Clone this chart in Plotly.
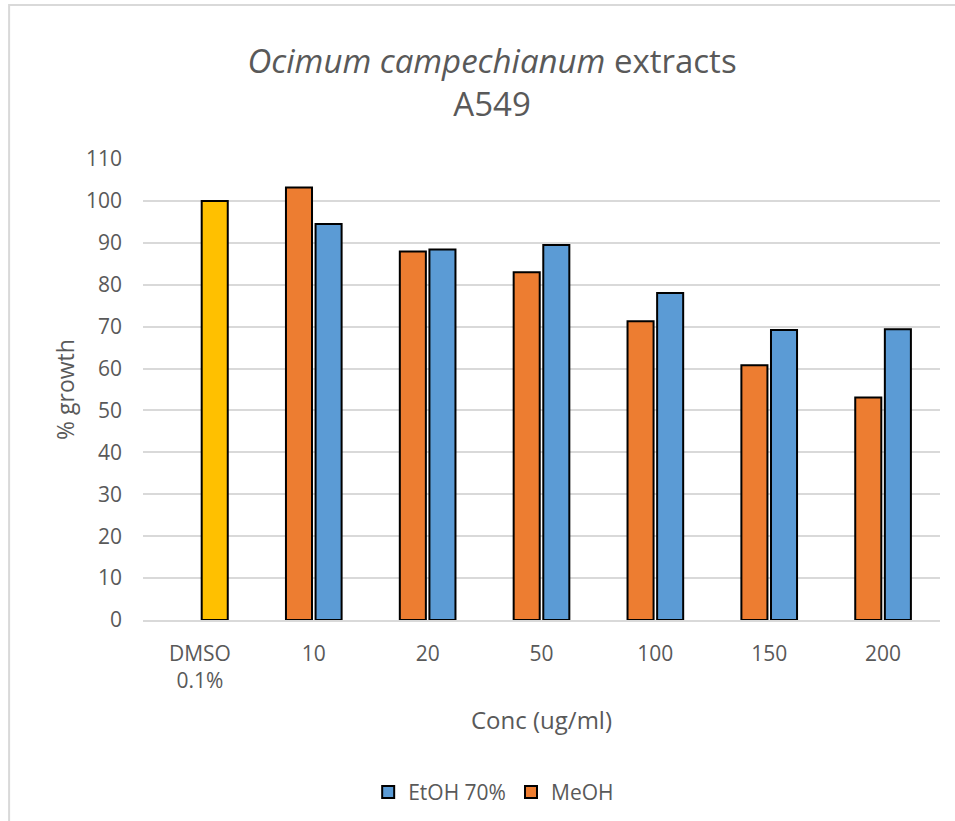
import plotly.graph_objects as go

categories = ["DMSO<br>0.1%", "10", "20", "50", "100", "150", "200"]
conc_labels = categories[1:]
control_label = categories[:1]
meoh = [103.2, 87.9, 83.0, 71.3, 60.8, 53.1]
etoh = [94.5, 88.4, 89.5, 78.0, 69.2, 69.4]
dmso = [100.0]

ORANGE = "#ED7D31"
BLUE = "#5B9BD5"
YELLOW = "#FFC000"
TXT = "#595959"
GRID = "#D9D9D9"
FONT = "Open Sans"

outline = dict(color="black", width=2)

fig = go.Figure()
fig.add_trace(go.Bar(
    x=conc_labels, y=meoh, name="MeOH", legendrank=2, offsetgroup="a",
    marker=dict(color=ORANGE, line=outline),
))
fig.add_trace(go.Bar(
    x=conc_labels, y=etoh, name="EtOH 70%", legendrank=1, offsetgroup="b",
    marker=dict(color=BLUE, line=outline),
))
fig.add_trace(go.Bar(
    x=control_label, y=dmso, name="DMSO 0.1%", showlegend=False, offsetgroup="b",
    marker=dict(color=YELLOW, line=outline),
))

fig.update_layout(
    width=955, height=821,
    paper_bgcolor="white", plot_bgcolor="white",
    barmode="group", bargap=0.48, bargroupgap=0.12,
    margin=dict(l=143, r=15, t=159, b=201, autoexpand=False),
    font=dict(family=FONT, color=TXT, size=21),
    title=dict(
        text="<i>Ocimum campechianum</i> extracts<br>A549",
        x=0.438, xanchor="center", xref="paper",
        y=0.9105, yanchor="middle",
        font=dict(family=FONT, size=33, color=TXT),
    ),
    showlegend=True,
    legend=dict(
        orientation="h", x=0.440, xanchor="center", xref="paper",
        y=-0.374, yanchor="middle",
        font=dict(family=FONT, size=21, color=TXT),
        itemwidth=30,
    ),
    shapes=[dict(
        type="rect", xref="paper", yref="paper",
        x0=-0.168, x1=1.2, y0=-1.0, y1=1.334,
        line=dict(color=GRID, width=2), fillcolor="rgba(0,0,0,0)",
        layer="below",
    )],
)

fig.update_yaxes(
    range=[0, 110], dtick=10, tick0=0, automargin=False,
    showgrid=True, gridcolor=GRID, gridwidth=1.5,
    zeroline=False, showline=False,
    ticklabelstandoff=20,
    tickfont=dict(size=21, color=TXT),
    title=dict(text="% growth", font=dict(size=23, color=TXT), standoff=4),
)
fig.update_xaxes(
    categoryorder="array", categoryarray=categories, automargin=False,
    showgrid=False, showline=True, linecolor=GRID, linewidth=1.5,
    ticks="", ticklabelstandoff=14,
    tickfont=dict(size=21, color=TXT),
    title=dict(text="Conc (ug/ml)", font=dict(size=24, color=TXT), standoff=19),
)

fig.write_html(
    "out.html",
    config={"displayModeBar": False},
    post_script="document.body.style.margin='0px';",
)
